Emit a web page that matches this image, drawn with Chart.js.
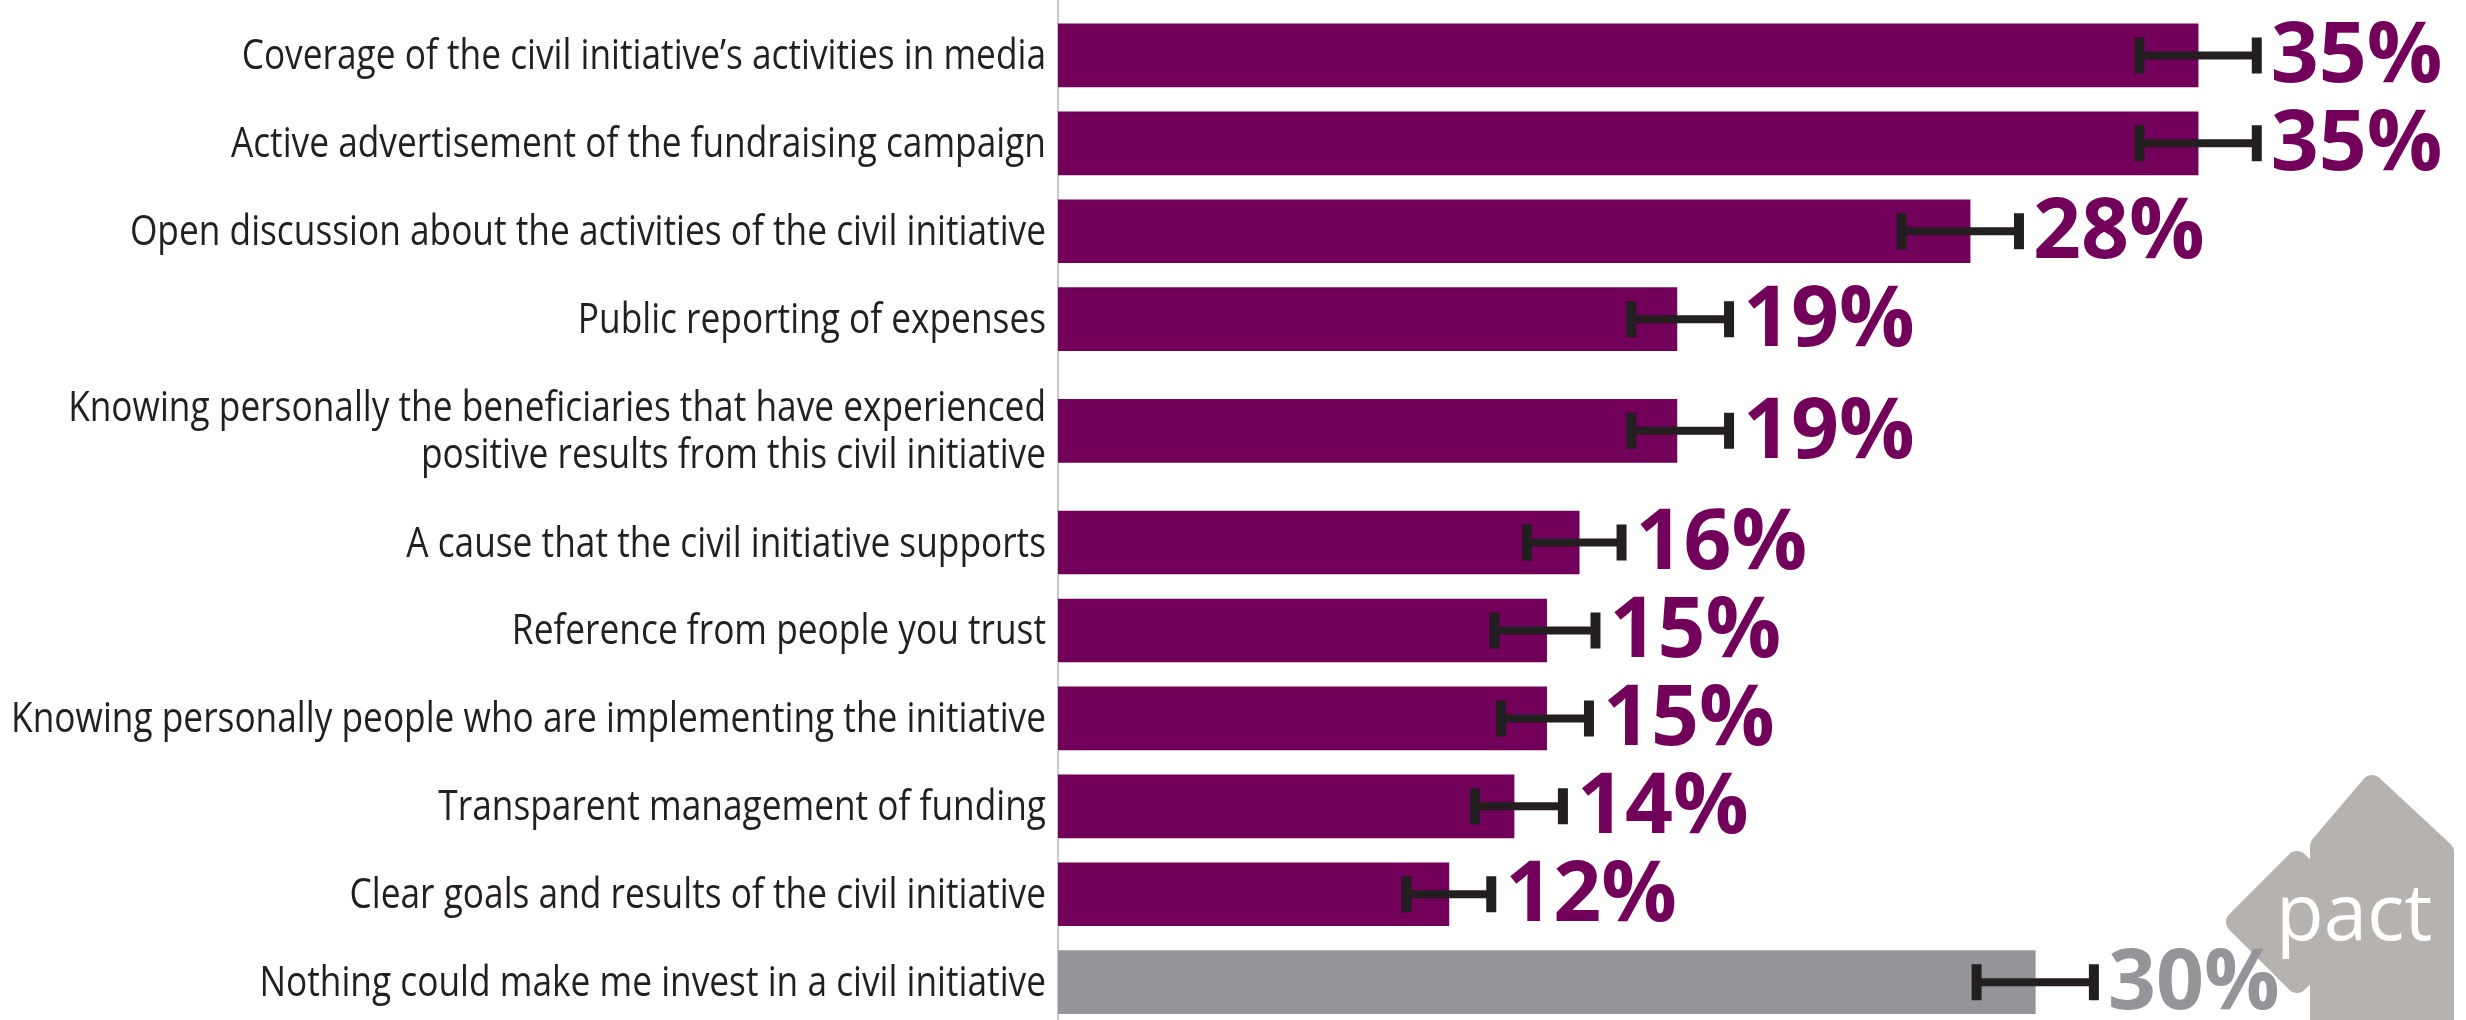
<!DOCTYPE html>
<html>
<head>
<meta charset="utf-8">
<script src="https://cdn.jsdelivr.net/npm/chart.js@4/dist/chart.umd.min.js"></script>
<style>
  html, body { margin: 0; padding: 0; background: #fff; }
  #wrap { width: 2466px; height: 1020px; }
</style>
</head>
<body>
<div id="wrap"><canvas id="chart"></canvas></div>
<script>
// donnees
const categories = [
  "Coverage of the civil initiative\u2019s activities in media",
  "Active advertisement of the fundraising campaign",
  "Open discussion about the activities of the civil initiative",
  "Public reporting of expenses",
  ["Knowing personally the beneficiaries that have experienced", "positive results from this civil initiative"],
  "A cause that the civil initiative supports",
  "Reference from people you trust",
  "Knowing personally people who are implementing the initiative",
  "Transparent management of funding",
  "Clear goals and results of the civil initiative",
  "Nothing could make me invest in a civil initiative"
];
const values = [35, 35, 28, 19, 19, 16, 15, 15, 14, 12, 30];
const errLow = [33.2, 33.2, 25.9, 17.6, 17.6, 14.4, 13.4, 13.6, 12.8, 10.7, 28.2];
const errHigh = [36.8, 36.8, 29.5, 20.6, 20.6, 17.3, 16.5, 16.3, 15.5, 13.3, 31.8];
const valueLabels = ["35%", "35%", "28%", "19%", "19%", "16%", "15%", "15%", "14%", "12%", "30%"];

const PURPLE = '#72005a';
const GREY = '#939598';
const barColors = values.map((v, i) => i === values.length - 1 ? GREY : PURPLE);
const LABEL_SQUEEZE = 0.84; // police etroite dans l'original

// position des lignes : un peu plus d'espace autour des libelles sur deux lignes
const rowPos = [];
categories.forEach((c, i) => {
  if (i === 0) { rowPos.push(0); return; }
  let step = 1;
  if (Array.isArray(c)) step += 0.27;
  if (Array.isArray(categories[i - 1])) step += 0.27;
  rowPos.push(rowPos[i - 1] + step);
});

// libelles, barres d'erreur, pourcentages et logo
const extras = {
  id: 'extras',
  afterDatasetsDraw(chart) {
    const ctx = chart.ctx;
    const xs = chart.scales.x;
    const ys = chart.scales.y;
    ctx.save();

    // libelles des categories (compresses horizontalement)
    ctx.fillStyle = '#231f20';
    ctx.font = '400 42px "Open Sans"';
    ctx.textAlign = 'right';
    ctx.textBaseline = 'alphabetic';
    categories.forEach((c, i) => {
      const lines = Array.isArray(c) ? c : [c];
      const y = ys.getPixelForValue(rowPos[i]);
      lines.forEach((line, k) => {
        const dy = 14 + (k - (lines.length - 1) / 2) * 47;
        ctx.save();
        ctx.translate(chart.chartArea.left - 12, y + dy);
        ctx.scale(LABEL_SQUEEZE, 1);
        ctx.fillText(line, 0, 0);
        ctx.restore();
      });
    });

    // logo pact (maison + fleche vers la gauche)
    ctx.fillStyle = '#b6b2af';
    ctx.strokeStyle = '#b6b2af';
    ctx.lineWidth = 22;
    ctx.lineJoin = 'round';
    ctx.beginPath();
    ctx.moveTo(2321, 1040);
    ctx.lineTo(2321, 846);
    ctx.lineTo(2372, 786);
    ctx.lineTo(2443, 852);
    ctx.lineTo(2443, 1040);
    ctx.closePath();
    ctx.fill();
    ctx.stroke();
    ctx.beginPath();
    ctx.moveTo(2297, 862);
    ctx.lineTo(2357, 922);
    ctx.lineTo(2297, 982);
    ctx.lineTo(2237, 922);
    ctx.closePath();
    ctx.fill();
    ctx.stroke();
    ctx.fillStyle = '#ffffff';
    ctx.font = '400 78px "Open Sans"';
    ctx.textAlign = 'left';
    ctx.fillText('pact', 2276, 940);

    values.forEach((v, i) => {
      const y = ys.getPixelForValue(rowPos[i]);
      const x1 = xs.getPixelForValue(errLow[i]);
      const x2 = xs.getPixelForValue(errHigh[i]);
      ctx.strokeStyle = '#231f20';
      ctx.lineWidth = 8;
      ctx.lineCap = 'butt';
      ctx.beginPath();
      ctx.moveTo(x1, y);
      ctx.lineTo(x2, y);
      ctx.stroke();
      ctx.lineWidth = 10;
      ctx.beginPath();
      ctx.moveTo(x1, y - 18);
      ctx.lineTo(x1, y + 18);
      ctx.moveTo(x2, y - 18);
      ctx.lineTo(x2, y + 18);
      ctx.stroke();

      ctx.fillStyle = barColors[i];
      ctx.font = '700 84px "Open Sans"';
      ctx.textAlign = 'left';
      ctx.textBaseline = 'middle';
      ctx.fillText(valueLabels[i], x2 + 14, y + 3);
    });
    ctx.restore();
  }
};

const ctx = document.getElementById('chart');
new Chart(ctx, {
  type: 'bar',
  data: {
    datasets: [{
      data: values.map((v, i) => ({ x: v, y: rowPos[i] })),
      backgroundColor: barColors,
      borderWidth: 0,
      barThickness: 63
    }]
  },
  options: {
    indexAxis: 'y',
    responsive: true,
    maintainAspectRatio: false,
    animation: false,
    layout: { padding: { left: 0, right: 105, top: 0, bottom: 0 } },
    plugins: { legend: { display: false }, tooltip: { enabled: false } },
    scales: {
      x: {
        type: 'linear',
        min: 0,
        max: 40,
        display: false
      },
      y: {
        type: 'linear',
        reverse: true,
        offset: false,
        min: -0.63,
        max: 10.97,
        grid: { display: false, drawTicks: false, offset: false },
        border: { display: true, color: '#c9c9c9', width: 2 },
        ticks: { display: false },
        afterFit(axis) {
          axis.width = 1058;
          axis.paddingTop = 0;
          axis.paddingBottom = 0;
        }
      }
    }
  },
  plugins: [extras]
});
</script>
</body>
</html>
